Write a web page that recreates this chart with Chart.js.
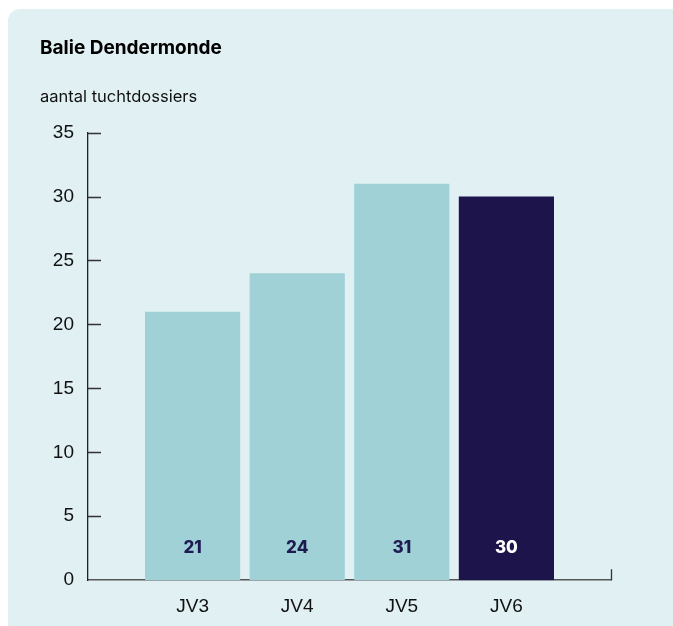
<!DOCTYPE html>
<html>
<head>
<meta charset="utf-8">
<script src="https://cdn.jsdelivr.net/npm/chart.js@4"></script>
<style>
  html, body { margin: 0; padding: 0; background: #ffffff; }
  #wrap { width: 673px; height: 626px; position: relative; }
</style>
</head>
<body>
<div id="wrap"><canvas id="chart" width="673" height="626"></canvas></div>
<script>
// empty slots at both ends keep the bars away from the axis ends
const categories = ["", "JV3", "JV4", "JV5", "JV6", ""];
const values = [null, 21, 24, 31, 30, null];
const yTicks = [0, 5, 10, 15, 20, 25, 30, 35];

const lightBar = "#9fd1d6";
const darkBar = "#1c144a";
const barColors = ["", lightBar, lightBar, lightBar, darkBar, ""];
const labelColors = ["", "#1e1a52", "#1e1a52", "#1e1a52", "#ffffff", ""];

const panelPlugin = {
  id: "panel",
  beforeDraw(chart) {
    const ctx = chart.ctx;
    ctx.save();
    ctx.fillStyle = "#e1f0f3";
    ctx.beginPath();
    ctx.roundRect(8, 9, 700, 660, 12);
    ctx.fill();
    ctx.restore();
  },
};

// ticks pointing into the plot, plus the little end tick on the x axis
const innerTicks = {
  id: "innerTicks",
  afterDraw(chart) {
    const ctx = chart.ctx;
    const y = chart.scales.y;
    const x = chart.scales.x;
    ctx.save();
    ctx.strokeStyle = "#333333";
    ctx.lineWidth = 1.3;
    ctx.beginPath();
    yTicks.forEach((v) => {
      if (v === 0) return;
      const py = Math.round(y.getPixelForValue(v)) + 0.5;
      ctx.moveTo(x.left, py);
      ctx.lineTo(x.left + 13, py);
    });
    const endX = Math.round(x.right) + 0.5;
    ctx.moveTo(endX, y.bottom);
    ctx.lineTo(endX, y.bottom - 11);
    ctx.stroke();
    ctx.restore();
  },
};

const barLabels = {
  id: "barLabels",
  afterDatasetsDraw(chart) {
    const ctx = chart.ctx;
    const meta = chart.getDatasetMeta(0);
    const base = chart.scales.y.getPixelForValue(0);
    ctx.save();
    ctx.font = "800 17px Inter";
    ctx.textAlign = "center";
    ctx.textBaseline = "middle";
    meta.data.forEach((bar, i) => {
      if (values[i] == null) return;
      ctx.fillStyle = labelColors[i];
      ctx.fillText(String(values[i]), bar.x, base - 32);
    });
    ctx.restore();
  },
};

new Chart(document.getElementById("chart").getContext("2d"), {
  type: "bar",
  data: {
    labels: categories,
    datasets: [
      {
        data: values,
        backgroundColor: barColors,
        borderWidth: 0,
        categoryPercentage: 1,
        barPercentage: 0.91,
      },
    ],
  },
  options: {
    responsive: false,
    animation: false,
    layout: {
      padding: { left: 40, right: 62, top: 0, bottom: 10 },
    },
    plugins: {
      legend: { display: false },
      tooltip: { enabled: false },
      title: {
        display: true,
        text: "Balie Dendermonde",
        align: "start",
        color: "#000000",
        font: { family: "Inter", size: 19, weight: "bold" },
        padding: { top: 37, bottom: 11 },
      },
      subtitle: {
        display: true,
        text: "aantal tuchtdossiers",
        align: "start",
        color: "#111111",
        font: { family: "Inter", size: 16.5 },
        padding: { top: 16, bottom: 26 },
      },
    },
    scales: {
      x: {
        offset: false,
        grid: { display: false, drawTicks: false },
        border: { display: true, color: "#555555", width: 1.5 },
        afterFit(scale) {
          scale.height = scale.height - 17;
        },
        ticks: {
          color: "#111111",
          font: { family: "Liberation Sans", size: 19 },
          padding: 15,
          autoSkip: false,
          maxRotation: 0,
        },
      },
      y: {
        min: 0,
        max: 35,
        grid: { display: false, drawTicks: false },
        border: { display: true, color: "#222222", width: 1.3 },
        afterFit(scale) {
          scale.width = 48;
        },
        afterBuildTicks(scale) {
          scale.ticks = yTicks.map((v) => ({ value: v }));
        },
        ticks: {
          color: "#111111",
          font: { family: "Liberation Sans", size: 19 },
          padding: 14,
        },
      },
    },
  },
  plugins: [panelPlugin, innerTicks, barLabels],
});
</script>
</body>
</html>
